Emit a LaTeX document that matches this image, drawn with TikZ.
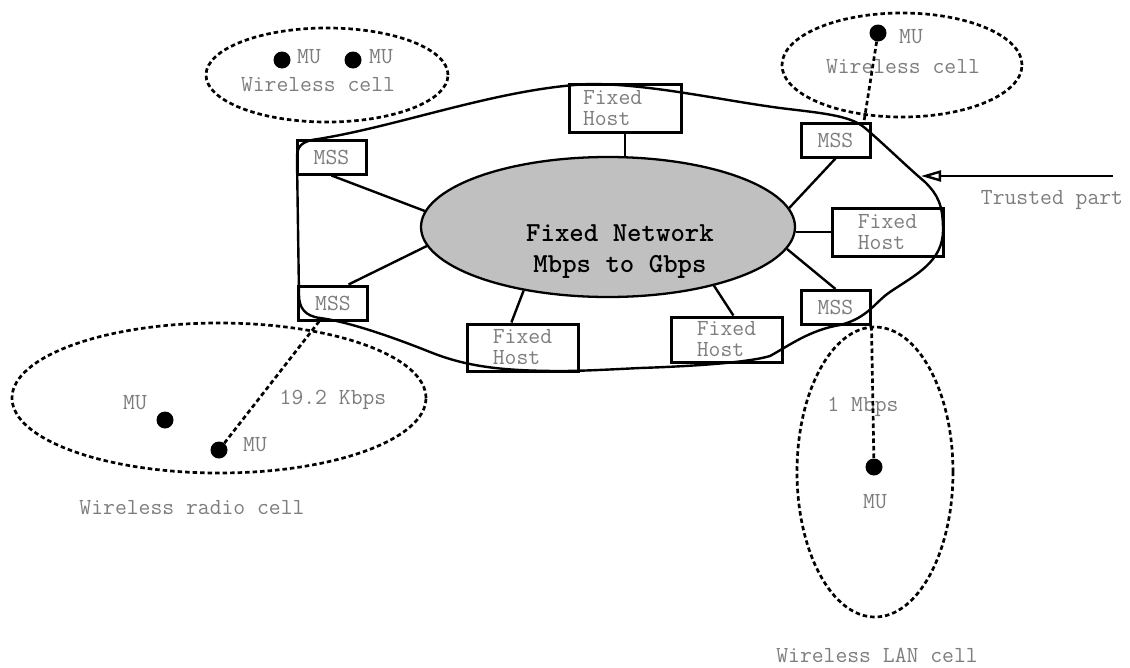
\documentclass[tikz,border=0pt]{standalone}
\usetikzlibrary{shapes.geometric,arrows.meta}
\definecolor{netfill}{RGB}{192,192,192}
\definecolor{txtgray}{RGB}{125,125,125}
\begin{document}
\begin{tikzpicture}[x=1pt,y=-1pt,
  txt/.style={font=\fontsize{23}{21}\selectfont\ttfamily, text=txtgray, inner sep=0pt},
  box/.style={draw, line width=3pt, rectangle, inner sep=0pt,
    font=\fontsize{23}{21}\selectfont\ttfamily, text=txtgray, align=left},
  msstation/.style={box, minimum width=69pt, minimum height=34pt},
  fhost/.style={box, minimum width=111pt, minimum height=47pt},
  cellshape/.style={draw, ellipse, line width=2.7pt, dash pattern=on 4.5pt off 3pt, inner sep=0pt},
  radiolink/.style={line width=2.7pt, dash pattern=on 4.5pt off 3pt},
  wire/.style={line width=2.4pt},
  mu/.style={circle, fill=black, minimum size=17pt, inner sep=0pt}
]
\useasboundingbox (0,0) rectangle (1130,667);

% fixed network core
\node[draw, ellipse, fill=netfill, line width=2.3pt, minimum width=374pt, minimum height=140pt] (net) at (608,227) {};
\node[font=\fontsize{27.5}{31}\selectfont\ttfamily\bfseries, align=center, inner sep=0pt] (netlabel) at (620,252)
  {Fixed Network\\Mbps to Gbps};

% mobile support stations
\node[msstation] (mssTL) at (331.5,157) {MSS};
\node[msstation] (mssBL) at (333,303) {MSS};
\node[msstation] (mssTR) at (835.5,140) {MSS};
\node[msstation] (mssBR) at (835.5,307.5) {MSS};

% fixed hosts
\node[fhost, minimum width=112pt, minimum height=48pt, text width=84pt, inner xsep=14pt] (fhT) at (625,108) {Fixed\\Host};
\node[fhost, minimum height=48pt] (fhR) at (887.5,232) {Fixed\\Host};
\node[fhost] (fhBL) at (522.5,347.5) {Fixed\\Host};
\node[fhost, minimum height=45pt] (fhBR) at (726.5,339.5) {Fixed\\Host};

% links into the fixed network
\draw[wire] (mssTL.south) -- (net.175);
\draw[wire] (mssBL.50) -- (net.186);
\draw[wire] (fhT.south) -- (fhT.south |- net.north);
\draw[wire] (mssTR.south) -- (net.6);
\draw[wire] (fhR.west) -- (fhR.west -| net.east);
\draw[wire] (mssBR.north) -- (net.353);
\draw[wire] (fhBL.114) -- (net.217);
\draw[wire] (fhBR.74) -- (net.331);

% trusted part boundary
\draw[line width=2.4pt] (297,160)
  .. controls (296,146) and (302,141) .. (318,139)
  .. controls (400,126) and (500,88) .. (590,84)
  .. controls (650,84) and (720,100) .. (780,108)
  .. controls (820,113) and (850,115) .. (865,128)
  .. controls (885,145) and (905,165) .. (925,182)
  .. controls (938,195) and (943,205) .. (943,230)
  .. controls (943,262) and (915,275) .. (890,292)
  .. controls (875,302) and (868,318) .. (840,325)
  .. controls (810,330) and (790,345) .. (770,356)
  .. controls (750,362) and (700,366) .. (640,368)
  .. controls (600,370) and (580,371) .. (560,371)
  .. controls (500,371) and (465,366) .. (430,352)
  .. controls (395,338) and (350,322) .. (320,318)
  .. controls (305,316) and (299,308) .. (299,295)
  -- cycle;

\coordinate (trustFrom) at (1113,176);
\coordinate (trustTip) at (921,176);
\draw[line width=2.4pt, -{Triangle[open,length=20pt,width=11pt]}] (trustFrom) -- (trustTip);
\node[txt] (trustLbl) at (1052,200) {Trusted part};

% wireless cell, top left
\node[cellshape, minimum width=242pt, minimum height=94pt] (cellTL) at (327,75) {};
\node[mu] (muTL1) at (282,60) {};
\node[mu] (muTL2) at (353,60) {};
\node[txt, anchor=west] (muTL1lbl) at (297,57) {MU};
\node[txt, anchor=west] (muTL2lbl) at (369,57) {MU};
\node[txt] (cellTLlbl) at (318,85) {Wireless cell};

% wireless cell, top right
\node[cellshape, minimum width=240pt, minimum height=104pt] (cellTR) at (902,65) {};
\node[mu] (muTR) at (878,33) {};
\node[txt, anchor=west] (muTRlbl) at (899,37) {MU};
\node[txt] (cellTRlbl) at (903,67) {Wireless cell};
\draw[radiolink] (muTR) -- (mssTR.33);

% wireless radio cell, bottom left
\node[cellshape, minimum width=414pt, minimum height=150pt] (cellBL) at (219,398) {};
\node[mu] (muBL1) at (165,420) {};
\node[mu] (muBL2) at (219,450) {};
\node[txt] (muBL1lbl) at (135,403) {MU};
\node[txt, anchor=west] (muBL2lbl) at (243,445) {MU};
\node[txt] (rateBL) at (333,400) {19.2 Kbps};
\node[txt] (cellBLlbl) at (192,508) {Wireless radio cell};
\draw[radiolink] (muBL2) -- (mssBL.233);

% wireless LAN cell, bottom right
\node[cellshape, minimum width=156pt, minimum height=290pt] (cellBR) at (875,472) {};
\node[mu] (muBR) at (874,467) {};
\node[txt] (muBRlbl) at (875,502) {MU};
\node[txt] (rateBR) at (863,407) {1 Mbps};
\node[txt] (cellBRlbl) at (877,655) {Wireless LAN cell};
\draw[radiolink] (mssBR.south east) -- (muBR);
\end{tikzpicture}
\end{document}
